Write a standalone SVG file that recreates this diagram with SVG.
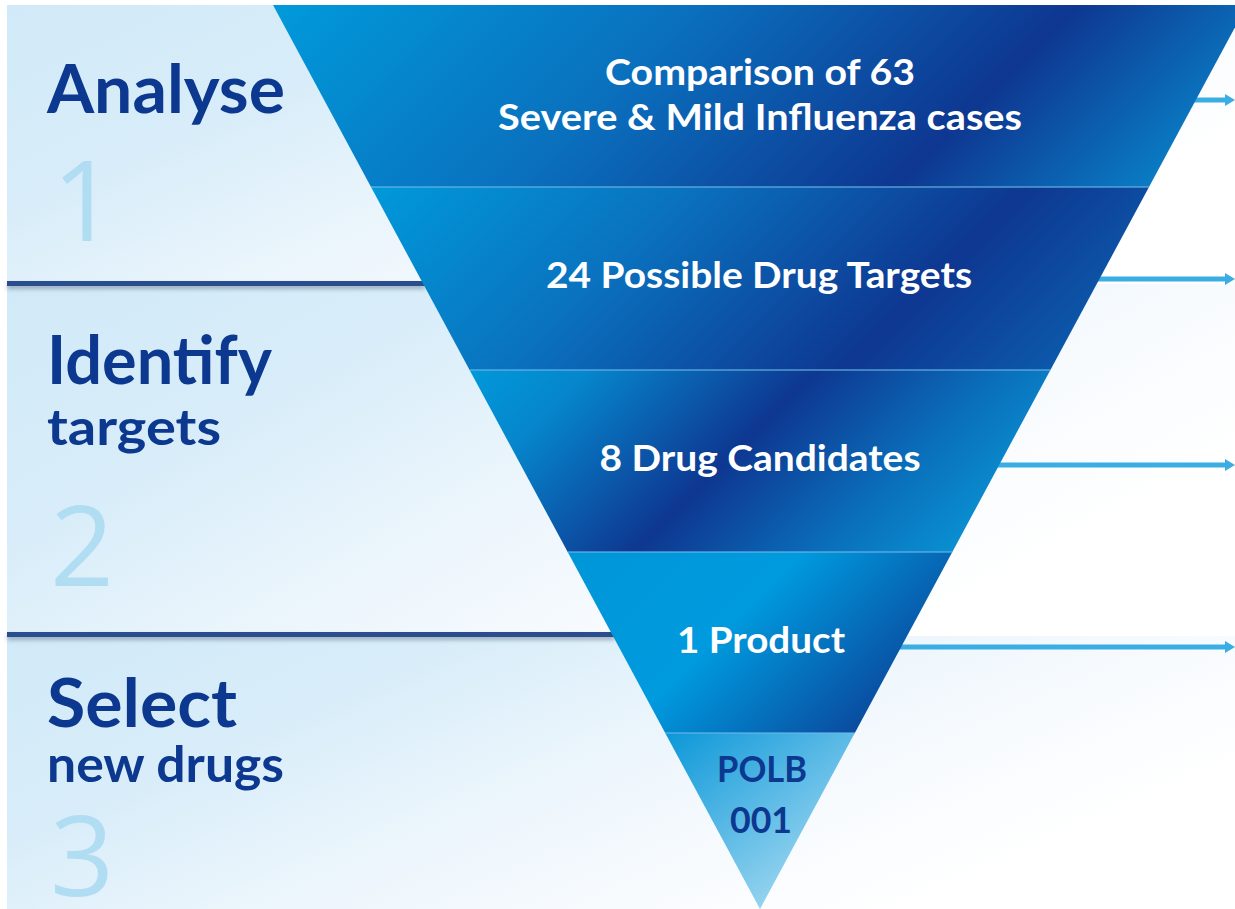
<svg xmlns="http://www.w3.org/2000/svg" width="1235" height="909" viewBox="0 0 1235 909">
<style>
.band-text{font-family:Lato,"Open Sans","Liberation Sans",sans-serif;font-weight:700;fill:#ffffff;font-size:36px;text-anchor:middle}
.polb{font-family:Lato,"Open Sans","Liberation Sans",sans-serif;font-weight:700;fill:#0c388f;font-size:36px;text-anchor:middle}
.title{font-family:Lato,"Open Sans","Liberation Sans",sans-serif;font-weight:700;fill:#0c388f;font-size:67px}
.sub{font-family:Lato,"Open Sans","Liberation Sans",sans-serif;font-weight:700;fill:#0c388f;font-size:50px}
.num{font-family:"Open Sans",Lato,"Liberation Sans",sans-serif;font-weight:400;fill:#b1ddf3;font-size:112px}
.divider{fill:#2b4e8e;filter:url(#shadow)}
.sep{stroke:#6cb8ea;stroke-width:1.5;stroke-opacity:0.75}
.arrow{stroke:#3aaee2;stroke-width:5;fill:none;marker-end:url(#ah)}
</style>
<defs>
<linearGradient id="bg" gradientUnits="objectBoundingBox" x1="0" y1="0" x2="1" y2="0.5">
<stop offset="0" stop-color="#d1e9f8"/>
<stop offset="0.3" stop-color="#d8edf9"/>
<stop offset="0.55" stop-color="#ebf5fc"/>
<stop offset="0.8" stop-color="#f8fbfe"/>
<stop offset="1" stop-color="#ffffff"/>
</linearGradient>
<linearGradient id="g1" gradientUnits="userSpaceOnUse" x1="273" y1="5" x2="802" y2="534">
<stop offset="0" stop-color="#009ada"/>
<stop offset="0.4" stop-color="#0a70be"/>
<stop offset="0.76" stop-color="#0e3791"/>
<stop offset="1" stop-color="#0a7cc4"/>
</linearGradient>
<linearGradient id="g2" gradientUnits="userSpaceOnUse" x1="370" y1="187" x2="899" y2="716">
<stop offset="0" stop-color="#0099da"/>
<stop offset="0.3" stop-color="#0a72bf"/>
<stop offset="0.62" stop-color="#0e3791"/>
<stop offset="1" stop-color="#0a78c2"/>
</linearGradient>
<linearGradient id="g3" gradientUnits="userSpaceOnUse" x1="468" y1="370" x2="803" y2="705">
<stop offset="0" stop-color="#0098da"/>
<stop offset="0.18" stop-color="#0686cc"/>
<stop offset="0.52" stop-color="#0e3791"/>
<stop offset="0.8" stop-color="#0a6fbb"/>
<stop offset="1" stop-color="#0a90d2"/>
</linearGradient>
<linearGradient id="g4" gradientUnits="userSpaceOnUse" x1="565" y1="552" x2="802" y2="789">
<stop offset="0" stop-color="#0096d8"/>
<stop offset="0.5" stop-color="#009ade"/>
<stop offset="1" stop-color="#0a4a9e"/>
</linearGradient>
<linearGradient id="g5" gradientUnits="userSpaceOnUse" x1="663" y1="733" x2="800" y2="909">
<stop offset="0" stop-color="#0a97d8"/>
<stop offset="1" stop-color="#a5daf2"/>
</linearGradient>
<filter id="shadow" x="-5%" y="-100%" width="110%" height="400%">
<feDropShadow dx="0" dy="3" stdDeviation="2" flood-color="#4a5a70" flood-opacity="0.45"/>
</filter>
<marker id="ah" viewBox="0 0 10 12" refX="0" refY="6" markerUnits="userSpaceOnUse" markerWidth="10" markerHeight="12" orient="auto">
<path d="M0,0 L10,6 L0,12 z" fill="#3aaee2"/>
</marker>
</defs>

<rect width="1235" height="909" fill="#ffffff"/>
<g id="background">
<rect x="7" y="5" width="1228" height="279" fill="url(#bg)"/>
<rect x="7" y="284" width="1228" height="352" fill="url(#bg)"/>
<rect x="7" y="636" width="1228" height="273" fill="url(#bg)"/>
</g>

<g id="dividers">
<rect class="divider" x="7" y="281" width="418" height="5"/>
<rect class="divider" x="7" y="632" width="608" height="5"/>
</g>

<g id="connectors">
<line class="arrow" x1="1150" y1="100" x2="1225" y2="100"/>
<line class="arrow" x1="1050" y1="279" x2="1225" y2="279"/>
<line class="arrow" x1="950" y1="465" x2="1225" y2="465"/>
<line class="arrow" x1="850" y1="647" x2="1225" y2="647"/>
</g>

<g id="band1">
<polygon points="273,5 1247,5 1149,187 371,187" fill="url(#g1)"/>
<text class="band-text" x="760" y="85" textLength="310" lengthAdjust="spacingAndGlyphs">Comparison of 63</text>
<text class="band-text" x="760" y="130" textLength="524" lengthAdjust="spacingAndGlyphs">Severe &amp; Mild Influenza cases</text>
</g>
<g id="band2">
<polygon points="371,187 1149,187 1050.4,370 469.6,370" fill="url(#g2)"/>
<text class="band-text" x="759" y="288" textLength="426" lengthAdjust="spacingAndGlyphs">24 Possible Drug Targets</text>
</g>
<g id="band3">
<polygon points="469.6,370 1050.4,370 952.3,552 567.7,552" fill="url(#g3)"/>
<text class="band-text" x="760" y="471" textLength="321" lengthAdjust="spacingAndGlyphs">8 Drug Candidates</text>
</g>
<g id="band4">
<polygon points="567.7,552 952.3,552 854.8,733 665.2,733" fill="url(#g4)"/>
<text class="band-text" x="761" y="653" textLength="168" lengthAdjust="spacingAndGlyphs">1 Product</text>
</g>
<g id="band5">
<polygon points="665.2,733 854.8,733 760,909" fill="url(#g5)"/>
<text class="polb" x="762" y="782" textLength="90" lengthAdjust="spacingAndGlyphs">POLB</text>
<text class="polb" x="761" y="833" textLength="62" lengthAdjust="spacingAndGlyphs">001</text>
</g>
<g id="band-separators">
<line class="sep" x1="371" y1="187" x2="1149" y2="187"/>
<line class="sep" x1="469.6" y1="370" x2="1050.4" y2="370"/>
<line class="sep" x1="567.7" y1="552" x2="952.3" y2="552"/>
<line class="sep" x1="665.2" y1="733" x2="854.8" y2="733"/>
</g>

<g id="step-analyse">
<text class="title" x="47" y="113" textLength="238" lengthAdjust="spacingAndGlyphs">Analyse</text>
<text class="num" x="52" y="241">1</text>
</g>
<g id="step-identify">
<text class="title" x="47" y="384" textLength="225" lengthAdjust="spacingAndGlyphs">Identify</text>
<text class="sub" x="47" y="445" textLength="174" lengthAdjust="spacingAndGlyphs">targets</text>
<text class="num" x="50" y="586">2</text>
</g>
<g id="step-select">
<text class="title" x="47" y="727" textLength="190" lengthAdjust="spacingAndGlyphs">Select</text>
<text class="sub" x="47" y="782" textLength="237" lengthAdjust="spacingAndGlyphs">new drugs</text>
<text class="num" x="50" y="896">3</text>
</g>
</svg>
